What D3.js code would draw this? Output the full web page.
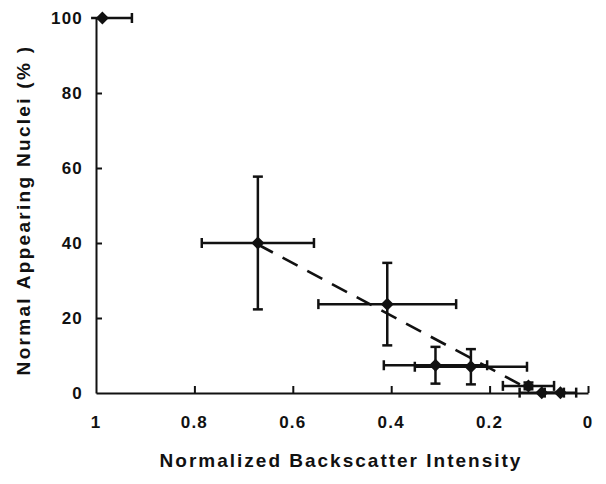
<!DOCTYPE html>
<html lang="en">
<head>
  <meta charset="UTF-8">
  <title>Backscatter vs Normal Nuclei</title>
  <script src="https://d3js.org/d3.v7.min.js"></script>
  <style>
    body { margin: 0; background: #fff; }
    text { font-family: "Liberation Sans", Arial, sans-serif; fill: #111; }
  </style>
</head>
<body>
  <svg id="chart" width="606" height="484"></svg>

  <script>
    // measured points (normalized backscatter intensity vs % normal nuclei)
    const intensity = [0.987, 0.671, 0.408, 0.31, 0.238, 0.121, 0.094, 0.056]
    const normalPct = [100, 40, 23.7, 7.4, 7.0, 1.9, 0.1, 0.1]
    const intensityErr = [0.06, 0.114, 0.14, 0.105, 0.114, 0.052, 0.045, 0.032]
    const normalErr = [0, 17.7, 11, 4.9, 4.7, 0.9, 0, 0]

    // dashed trend line end points
    const fitX = [0.671, 0.118]
    const fitY = [39.6, 0.9]

    const xTicks = [1, 0.8, 0.6, 0.4, 0.2, 0]
    const yTicks = [0, 20, 40, 60, 80, 100]

    const svg = d3.select("#chart")

    const x = d3.scaleLinear().domain([1, 0]).range([96, 588])
    const y = d3.scaleLinear().domain([0, 100]).range([393, 18])
    const xClip = 1.01

    // axes, ticks point inward
    const xAxis = svg.append("g")
      .attr("transform", "translate(0,393)")
      .call(d3.axisTop(x).tickValues(xTicks).tickSize(7).tickSizeOuter(0).tickFormat(""))
    xAxis.select(".domain").attr("stroke", "#111").attr("stroke-width", 2)
    xAxis.selectAll(".tick line").attr("stroke", "#111").attr("stroke-width", 2)
    xAxis.selectAll(".tick").filter(d => d === 1).remove()

    const yAxis = svg.append("g")
      .attr("transform", "translate(96,0)")
      .call(d3.axisRight(y).tickValues(yTicks).tickSize(6).tickSizeOuter(0).tickFormat(""))
    yAxis.select(".domain").attr("stroke", "#111").attr("stroke-width", 2)
    yAxis.selectAll(".tick line").attr("stroke", "#111").attr("stroke-width", 2)
    yAxis.selectAll(".tick").filter(d => d === 0).remove()

    svg.append("g").selectAll("text")
      .data(xTicks)
      .join("text")
      .attr("x", d => x(d))
      .attr("y", 428)
      .attr("text-anchor", "middle")
      .style("font-size", "17px")
      .style("font-weight", "bold")
      .style("letter-spacing", "1.2px")
      .text(d => d)

    svg.append("g").selectAll("text")
      .data(yTicks)
      .join("text")
      .attr("x", 83)
      .attr("y", d => y(d) + 6)
      .attr("text-anchor", "end")
      .style("font-size", "17px")
      .style("font-weight", "bold")
      .style("letter-spacing", "1.2px")
      .text(d => d)

    svg.append("text")
      .attr("x", 341)
      .attr("y", 467)
      .attr("text-anchor", "middle")
      .style("font-size", "19px")
      .style("font-weight", "bold")
      .style("letter-spacing", "2px")
      .text("Normalized Backscatter Intensity")

    svg.append("text")
      .attr("transform", "translate(30,210) rotate(-90)")
      .attr("text-anchor", "middle")
      .style("font-size", "19px")
      .style("font-weight", "bold")
      .style("letter-spacing", "2.3px")
      .text("Normal Appearing Nuclei (% )")

    // trend line
    svg.append("line")
      .attr("x1", x(fitX[0])).attr("y1", y(fitY[0]))
      .attr("x2", x(fitX[1])).attr("y2", y(fitY[1]))
      .attr("stroke", "#111")
      .attr("stroke-width", 2.6)
      .attr("stroke-dasharray", "17,11")

    const pts = intensity.map((v, i) => ({
      x: v, y: normalPct[i], ex: intensityErr[i], ey: normalErr[i]
    }))

    const cap = 5
    const err = svg.append("g")
      .attr("stroke", "#111")
      .attr("stroke-width", 2.5)
      .attr("fill", "none")

    pts.forEach(p => {
      const lo = Math.min(p.x + p.ex, xClip)
      const hi = p.x - p.ex
      const cy = y(p.y)
      err.append("line").attr("x1", x(lo)).attr("x2", x(hi)).attr("y1", cy).attr("y2", cy)
      if (lo < xClip) {
        err.append("line").attr("x1", x(lo)).attr("x2", x(lo)).attr("y1", cy - cap).attr("y2", cy + cap)
      }
      err.append("line").attr("x1", x(hi)).attr("x2", x(hi)).attr("y1", cy - cap).attr("y2", cy + cap)
      if (p.ey > 0) {
        const cx = x(p.x)
        const top = y(p.y + p.ey), bot = y(p.y - p.ey)
        err.append("line").attr("x1", cx).attr("x2", cx).attr("y1", top).attr("y2", bot)
        err.append("line").attr("x1", cx - cap).attr("x2", cx + cap).attr("y1", top).attr("y2", top)
        err.append("line").attr("x1", cx - cap).attr("x2", cx + cap).attr("y1", bot).attr("y2", bot)
      }
    })

    // diamond markers
    svg.append("g").selectAll("path")
      .data(pts)
      .join("path")
      .attr("transform", d => "translate(" + x(d.x) + "," + y(d.y) + ")")
      .attr("d", "M0,-6.5L6.5,0L0,6.5L-6.5,0Z")
      .attr("fill", "#111")
  </script>
</body>
</html>
